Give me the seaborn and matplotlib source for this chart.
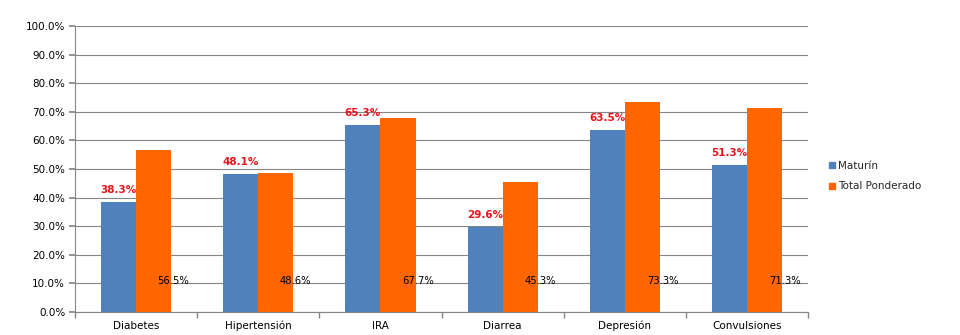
import matplotlib
matplotlib.use("Agg")
import matplotlib.pyplot as plt
import seaborn as sns
import pandas as pd
from matplotlib.ticker import FuncFormatter, MultipleLocator, FixedLocator
from matplotlib.lines import Line2D

categories = ["Diabetes", "Hipertensión", "IRA", "Diarrea", "Depresión", "Convulsiones"]
maturin = [38.3, 48.1, 65.3, 29.6, 63.5, 51.3]
total_ponderado = [56.5, 48.6, 67.7, 45.3, 73.3, 71.3]
series_names = ["Maturín", "Total Ponderado"]
colors = ["#4F81BD", "#FF6600"]

rows = []
for c, m, t in zip(categories, maturin, total_ponderado):
    rows.append({"cat": c, "serie": series_names[0], "val": m})
    rows.append({"cat": c, "serie": series_names[1], "val": t})
df = pd.DataFrame(rows)

sns.set_theme(style="white")
plt.rcParams["font.family"] = ["DejaVu Sans"]

fig = plt.figure(figsize=(9.6, 3.35), dpi=100)
ax = fig.add_axes([0.078, 0.0687, 0.764, 0.8535])

sns.barplot(data=df, x="cat", y="val", hue="serie", palette=colors,
            order=categories, hue_order=series_names, width=0.574,
            saturation=1, ax=ax, legend=False, errorbar=None,
            linewidth=0, edgecolor="none")

ax.set_ylim(0, 100)
ax.set_xlim(-0.5, len(categories) - 0.5)
ax.yaxis.set_major_locator(MultipleLocator(10))
ax.yaxis.set_major_formatter(FuncFormatter(lambda v, p: f"{v:.1f}%"))
ax.grid(axis="y", color="#868686", linewidth=0.8)
ax.set_axisbelow(True)
ax.set_xlabel("")
ax.set_ylabel("")

for s in ["top", "right"]:
    ax.spines[s].set_visible(False)
for s in ["left", "bottom"]:
    ax.spines[s].set_color("#868686")
    ax.spines[s].set_linewidth(0.8)

ax.tick_params(axis="y", which="major", left=True, length=4, color="#868686",
               labelsize=7.5, pad=3, labelcolor="#000000")
ax.tick_params(axis="x", which="major", bottom=False, length=0, labelsize=7.5,
               pad=12.5, labelcolor="#000000")
for lbl in ax.get_xticklabels():
    lbl.set_verticalalignment("baseline")
ax.xaxis.set_minor_locator(FixedLocator([i + 0.5 for i in range(-1, len(categories))]))
ax.tick_params(axis="x", which="minor", bottom=True, length=4, color="#868686")

# labels
blue_bars = ax.containers[0]
orange_bars = ax.containers[1]
for bar, v in zip(blue_bars, maturin):
    ax.text(bar.get_x() + bar.get_width() / 2, v + 2.5, f"{v:.1f}%",
            ha="center", va="bottom", color="#E8141C", fontsize=7.5,
            fontweight="bold")
for bar, v in zip(orange_bars, total_ponderado):
    ax.text(bar.get_x() + bar.get_width() + 0.02, 10.8, f"{v:.1f}%",
            ha="center", va="center", color="#000000", fontsize=7.2)

handles = [Line2D([], [], marker="s", linestyle="none", markersize=5,
                  markerfacecolor=c, markeredgecolor=c) for c in colors]
fig.legend(handles, series_names, loc="center left",
           bbox_to_anchor=(0.853, 0.474), frameon=False, fontsize=7.5,
           handletextpad=0.1, labelspacing=1.0, handlelength=0.8)

fig.savefig("out.png", dpi=100, facecolor="white")
